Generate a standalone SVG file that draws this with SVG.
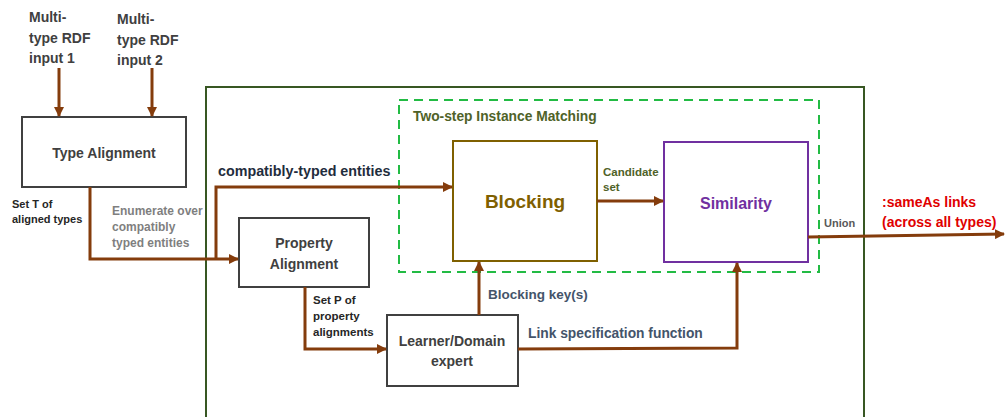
<svg xmlns="http://www.w3.org/2000/svg" width="1005" height="417" viewBox="0 0 1005 417">
<style>
text{font-family:"Liberation Sans",Arial,sans-serif;font-weight:bold}
.box{fill:#fff;stroke:#404040;stroke-width:2}
.lbl{font-size:14px;fill:#404040}
.c{stroke:#843C0C;stroke-width:3;fill:none}
.sm{font-size:11px}
</style>
<defs>
<marker id="ah" markerWidth="10" markerHeight="10" refX="9" refY="5" orient="auto" markerUnits="userSpaceOnUse">
<path d="M0,0 L10,5 L0,10 Z" fill="#843C0C"/>
</marker>
</defs>
<rect width="1005" height="417" fill="#fff"/>
<g id="outer">
<rect x="206" y="87" width="658" height="340" fill="none" stroke="#385723" stroke-width="2"/>
</g>
<g id="matching">
<rect x="399" y="100" width="420" height="172" fill="none" stroke="#22BB44" stroke-width="2" stroke-dasharray="9,6"/>
<text x="413" y="121" font-size="13.8" fill="#4F6228">Two-step Instance Matching</text>
</g>
<g id="inputs">
<text x="29" y="22" class="lbl">Multi-</text>
<text x="29" y="43" class="lbl">type RDF</text>
<text x="29" y="63" class="lbl">input 1</text>
<text x="117" y="24" class="lbl">Multi-</text>
<text x="117" y="45" class="lbl">type RDF</text>
<text x="117" y="65" class="lbl">input 2</text>
</g>
<g id="type-alignment">
<rect class="box" x="22" y="117" width="164" height="70"/>
<text x="104" y="158" class="lbl" text-anchor="middle">Type Alignment</text>
</g>
<g id="property-alignment">
<rect class="box" x="239" y="218" width="130" height="69"/>
<text x="304" y="248" class="lbl" text-anchor="middle">Property</text>
<text x="304" y="269" class="lbl" text-anchor="middle">Alignment</text>
</g>
<g id="blocking">
<rect x="453" y="141" width="144" height="120" fill="#fff" stroke="#7F6000" stroke-width="2"/>
<text x="525" y="208" font-size="19" fill="#7F6000" text-anchor="middle">Blocking</text>
</g>
<g id="similarity">
<rect x="664" y="142" width="144" height="120" fill="#fff" stroke="#7030A0" stroke-width="2"/>
<text x="736" y="209" font-size="16" fill="#7030A0" text-anchor="middle">Similarity</text>
</g>
<g id="learner">
<rect class="box" x="387" y="315" width="131" height="71"/>
<text x="452" y="346" class="lbl" text-anchor="middle">Learner/Domain</text>
<text x="452" y="366" class="lbl" text-anchor="middle">expert</text>
</g>
<g id="connectors">
<line class="c" x1="59" y1="68" x2="59" y2="116" marker-end="url(#ah)"/>
<line class="c" x1="152" y1="68" x2="152" y2="116" marker-end="url(#ah)"/>
<polyline class="c" points="90,187 90,259 238,259" marker-end="url(#ah)"/>
<polyline class="c" points="216,259 216,187 452,187" marker-end="url(#ah)"/>
<line class="c" x1="597" y1="201" x2="663" y2="201" marker-end="url(#ah)"/>
<polyline class="c" points="305,287 305,349 386,349" marker-end="url(#ah)"/>
<line class="c" x1="479" y1="315" x2="479" y2="262" marker-end="url(#ah)"/>
<polyline class="c" points="518,349 737,348 737,263" marker-end="url(#ah)"/>
<line class="c" x1="808" y1="237" x2="1004" y2="234" marker-end="url(#ah)"/>
</g>
<g id="labels">
<text x="12" y="208" class="sm" fill="#262626">Set T of</text>
<text x="12" y="223" class="sm" fill="#262626">aligned types</text>
<text x="112" y="215" font-size="12" fill="#7F7F7F">Enumerate over</text>
<text x="112" y="231" font-size="12" fill="#7F7F7F">compatibly</text>
<text x="112" y="247" font-size="12" fill="#7F7F7F">typed entities</text>
<text x="218" y="176" font-size="14.3" fill="#1F2D3D">compatibly-typed entities</text>
<text x="603" y="176" font-size="11.5" fill="#4F6228">Candidate</text>
<text x="603" y="191" font-size="11.5" fill="#4F6228">set</text>
<text x="824" y="227" font-size="11" fill="#595959">Union</text>
<text x="882" y="207" font-size="14" fill="#E00000">:sameAs links</text>
<text x="882" y="227" font-size="14" fill="#E00000">(across all types)</text>
<text x="313" y="304" font-size="11.5" fill="#262626">Set P of</text>
<text x="313" y="320" font-size="11.5" fill="#262626">property</text>
<text x="313" y="336" font-size="11.5" fill="#262626">alignments</text>
<text x="488" y="299" font-size="13.5" fill="#44546A">Blocking key(s)</text>
<text x="528" y="338" font-size="13.8" fill="#44546A">Link specification function</text>
</g>
</svg>
